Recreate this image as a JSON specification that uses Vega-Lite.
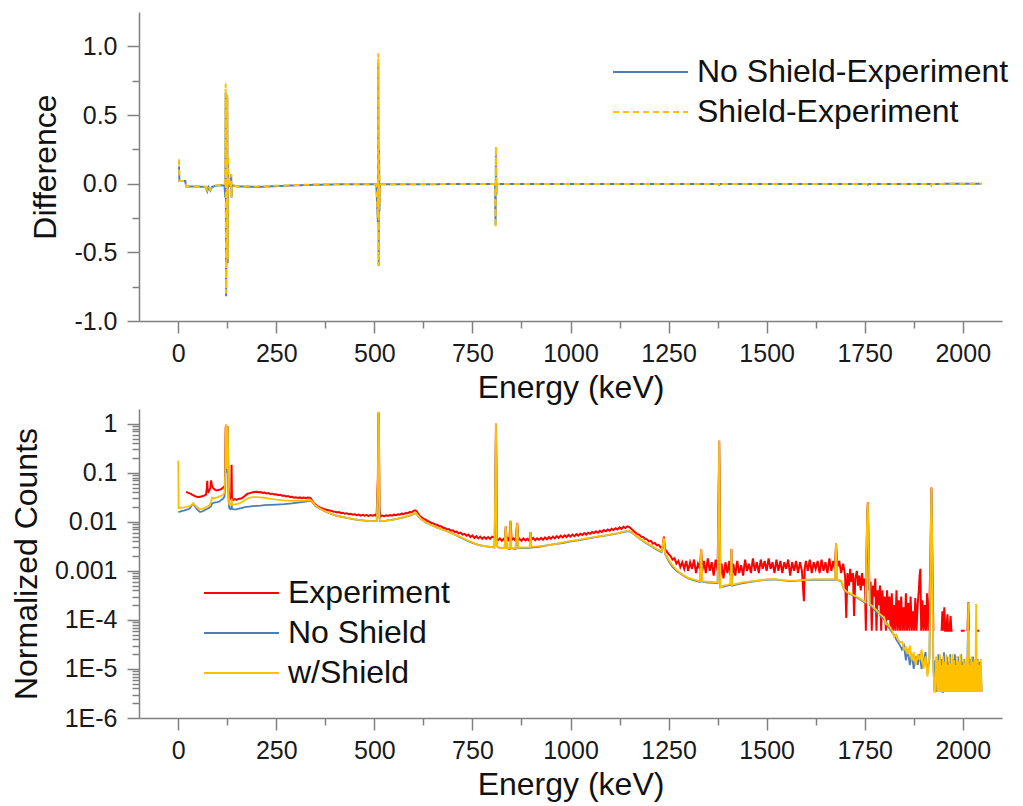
{
"$schema": "https://vega.github.io/schema/vega-lite/v6.json",
"padding": {"left": 10, "top": 12, "right": 10, "bottom": 4},
"spacing": 6,
"config": {
  "font": "Liberation Sans",
  "view": {"stroke": null},
  "axis": {"labelFontSize": 25, "titleFontSize": 32, "titleFontWeight": "normal", "labelColor": "#1a1a1a", "titleColor": "#111111", "domainColor": "#808080", "tickColor": "#808080", "domainWidth": 1.5, "tickWidth": 1.5, "grid": false, "labelFlush": false, "labelOverlap": false, "labelPadding": 8},
  "legend": {"labelFontSize": 32, "labelColor": "#111111", "symbolStrokeWidth": 2, "labelOffset": 3, "rowPadding": 8, "labelLimit": 500}
},
"datasets": {
"diff": [
{"e":0,"No Shield-Experiment":0.12,"Shield-Experiment":0.17},
{"e":2,"No Shield-Experiment":0.12,"Shield-Experiment":0.17},
{"e":3,"No Shield-Experiment":0.02,"Shield-Experiment":0.02},
{"e":18,"No Shield-Experiment":0.02,"Shield-Experiment":0.02},
{"e":20,"No Shield-Experiment":-0.02,"Shield-Experiment":-0.018},
{"e":40,"No Shield-Experiment":-0.02,"Shield-Experiment":-0.018},
{"e":60,"No Shield-Experiment":-0.022,"Shield-Experiment":-0.02},
{"e":70,"No Shield-Experiment":-0.025,"Shield-Experiment":-0.022},
{"e":74,"No Shield-Experiment":-0.055,"Shield-Experiment":-0.045},
{"e":77,"No Shield-Experiment":-0.025,"Shield-Experiment":-0.02},
{"e":82,"No Shield-Experiment":-0.05,"Shield-Experiment":-0.045},
{"e":86,"No Shield-Experiment":-0.025,"Shield-Experiment":-0.02},
{"e":95,"No Shield-Experiment":-0.015,"Shield-Experiment":-0.013},
{"e":110,"No Shield-Experiment":-0.012,"Shield-Experiment":-0.01},
{"e":118,"No Shield-Experiment":-0.015,"Shield-Experiment":-0.01},
{"e":120,"No Shield-Experiment":-0.1,"Shield-Experiment":0.05},
{"e":121,"No Shield-Experiment":0.66,"Shield-Experiment":0.73},
{"e":122,"No Shield-Experiment":-0.82,"Shield-Experiment":-0.8},
{"e":123,"No Shield-Experiment":-0.45,"Shield-Experiment":-0.4},
{"e":124,"No Shield-Experiment":0.3,"Shield-Experiment":0.35},
{"e":125,"No Shield-Experiment":0.63,"Shield-Experiment":0.65},
{"e":126,"No Shield-Experiment":-0.58,"Shield-Experiment":-0.55},
{"e":127,"No Shield-Experiment":0.15,"Shield-Experiment":0.2},
{"e":128,"No Shield-Experiment":-0.02,"Shield-Experiment":-0.02},
{"e":134,"No Shield-Experiment":-0.015,"Shield-Experiment":-0.012},
{"e":135,"No Shield-Experiment":0.07,"Shield-Experiment":0.07},
{"e":136,"No Shield-Experiment":-0.1,"Shield-Experiment":-0.1},
{"e":137,"No Shield-Experiment":-0.012,"Shield-Experiment":-0.01},
{"e":150,"No Shield-Experiment":-0.02,"Shield-Experiment":-0.018},
{"e":200,"No Shield-Experiment":-0.024,"Shield-Experiment":-0.02},
{"e":250,"No Shield-Experiment":-0.018,"Shield-Experiment":-0.015},
{"e":300,"No Shield-Experiment":-0.012,"Shield-Experiment":-0.01},
{"e":350,"No Shield-Experiment":-0.008,"Shield-Experiment":-0.006},
{"e":400,"No Shield-Experiment":-0.005,"Shield-Experiment":-0.004},
{"e":450,"No Shield-Experiment":-0.004,"Shield-Experiment":-0.003},
{"e":505,"No Shield-Experiment":-0.005,"Shield-Experiment":-0.004},
{"e":509,"No Shield-Experiment":-0.28,"Shield-Experiment":-0.25},
{"e":510,"No Shield-Experiment":0.88,"Shield-Experiment":0.95},
{"e":511,"No Shield-Experiment":-0.6,"Shield-Experiment":-0.6},
{"e":512,"No Shield-Experiment":0.25,"Shield-Experiment":0.3},
{"e":513,"No Shield-Experiment":-0.2,"Shield-Experiment":-0.15},
{"e":514,"No Shield-Experiment":-0.005,"Shield-Experiment":-0.004},
{"e":600,"No Shield-Experiment":-0.004,"Shield-Experiment":-0.003},
{"e":700,"No Shield-Experiment":-0.003,"Shield-Experiment":-0.003},
{"e":808,"No Shield-Experiment":-0.003,"Shield-Experiment":-0.003},
{"e":809,"No Shield-Experiment":-0.3,"Shield-Experiment":-0.32},
{"e":810,"No Shield-Experiment":0.26,"Shield-Experiment":0.27},
{"e":811,"No Shield-Experiment":-0.08,"Shield-Experiment":-0.06},
{"e":812,"No Shield-Experiment":-0.003,"Shield-Experiment":-0.003},
{"e":1000,"No Shield-Experiment":-0.002,"Shield-Experiment":-0.002},
{"e":1378,"No Shield-Experiment":-0.002,"Shield-Experiment":-0.002},
{"e":1379,"No Shield-Experiment":-0.014,"Shield-Experiment":-0.012},
{"e":1380,"No Shield-Experiment":-0.002,"Shield-Experiment":-0.002},
{"e":1757,"No Shield-Experiment":-0.002,"Shield-Experiment":-0.002},
{"e":1758,"No Shield-Experiment":-0.006,"Shield-Experiment":-0.008},
{"e":1759,"No Shield-Experiment":-0.002,"Shield-Experiment":-0.002},
{"e":1919,"No Shield-Experiment":-0.002,"Shield-Experiment":-0.002},
{"e":1920,"No Shield-Experiment":-0.008,"Shield-Experiment":-0.01},
{"e":1921,"No Shield-Experiment":-0.002,"Shield-Experiment":-0.002},
{"e":2048,"No Shield-Experiment":0,"Shield-Experiment":0}
],
"exp": [
{"e":20,"Experiment":0.041},{"e":23,"Experiment":0.04},{"e":26,"Experiment":0.039},{"e":29,"Experiment":0.038},{"e":32,"Experiment":0.0375},{"e":35,"Experiment":0.036},{"e":38,"Experiment":0.035},{"e":41,"Experiment":0.034},{"e":44,"Experiment":0.033},{"e":47,"Experiment":0.0325},{"e":50,"Experiment":0.032},{"e":53,"Experiment":0.032},{"e":56,"Experiment":0.0325},{"e":59,"Experiment":0.033},{"e":62,"Experiment":0.0335},{"e":65,"Experiment":0.034},{"e":68,"Experiment":0.035},{"e":71,"Experiment":0.036},{"e":73,"Experiment":0.05},{"e":74,"Experiment":0.069},{"e":75,"Experiment":0.045},{"e":77,"Experiment":0.041},{"e":79,"Experiment":0.043},{"e":82,"Experiment":0.05},{"e":84,"Experiment":0.07},{"e":86,"Experiment":0.055},{"e":88,"Experiment":0.05},{"e":91,"Experiment":0.047},{"e":94,"Experiment":0.045},{"e":97,"Experiment":0.044},{"e":100,"Experiment":0.044},{"e":104,"Experiment":0.045},{"e":108,"Experiment":0.046},{"e":112,"Experiment":0.048},{"e":116,"Experiment":0.051},{"e":119,"Experiment":0.055},
{"e":120,"Experiment":0.2},{"e":121,"Experiment":0.85},{"e":122,"Experiment":0.95},{"e":123,"Experiment":0.25},{"e":124,"Experiment":0.15},{"e":125,"Experiment":0.7},{"e":126,"Experiment":0.88},{"e":127,"Experiment":0.3},{"e":128,"Experiment":0.05},{"e":130,"Experiment":0.032},{"e":133,"Experiment":0.029},{"e":135,"Experiment":0.03},{"e":136,"Experiment":0.146},{"e":137,"Experiment":0.03},{"e":140,"Experiment":0.028},{"e":144,"Experiment":0.029},{"e":148,"Experiment":0.028},{"e":152,"Experiment":0.029},{"e":156,"Experiment":0.0295},{"e":160,"Experiment":0.03},{"e":164,"Experiment":0.031},{"e":168,"Experiment":0.033},{"e":172,"Experiment":0.035},{"e":176,"Experiment":0.037},{"e":180,"Experiment":0.038},{"e":185,"Experiment":0.039},{"e":190,"Experiment":0.04},{"e":195,"Experiment":0.0405},{"e":200,"Experiment":0.041},
{"e":205,"Experiment":0.04},{"e":210,"Experiment":0.0405},{"e":215,"Experiment":0.039},{"e":220,"Experiment":0.0395},{"e":225,"Experiment":0.038},{"e":230,"Experiment":0.0385},{"e":235,"Experiment":0.037},{"e":240,"Experiment":0.0375},{"e":245,"Experiment":0.036},{"e":250,"Experiment":0.0365},{"e":255,"Experiment":0.035},{"e":260,"Experiment":0.0355},{"e":265,"Experiment":0.034},{"e":270,"Experiment":0.0345},{"e":275,"Experiment":0.033},{"e":280,"Experiment":0.0335},{"e":285,"Experiment":0.032},{"e":290,"Experiment":0.0325},{"e":295,"Experiment":0.031},{"e":300,"Experiment":0.0318},{"e":305,"Experiment":0.0308},{"e":310,"Experiment":0.0315},{"e":315,"Experiment":0.0305},{"e":320,"Experiment":0.0312},{"e":325,"Experiment":0.0305},{"e":330,"Experiment":0.0315},{"e":335,"Experiment":0.031},{"e":338,"Experiment":0.03},{"e":342,"Experiment":0.027},{"e":346,"Experiment":0.024},{"e":350,"Experiment":0.0225},{"e":354,"Experiment":0.021},{"e":358,"Experiment":0.0205},{"e":362,"Experiment":0.0195},{"e":366,"Experiment":0.019},{"e":370,"Experiment":0.0185},{"e":375,"Experiment":0.0178},{"e":380,"Experiment":0.0175},{"e":385,"Experiment":0.017},{"e":390,"Experiment":0.0168},{"e":395,"Experiment":0.0163},{"e":400,"Experiment":0.016},
{"e":405,"Experiment":0.0155},{"e":410,"Experiment":0.0158},{"e":415,"Experiment":0.015},{"e":420,"Experiment":0.0153},{"e":425,"Experiment":0.0146},{"e":430,"Experiment":0.0149},{"e":435,"Experiment":0.0143},{"e":440,"Experiment":0.0146},{"e":445,"Experiment":0.014},{"e":450,"Experiment":0.0143},{"e":455,"Experiment":0.0137},{"e":460,"Experiment":0.0141},{"e":465,"Experiment":0.0134},{"e":470,"Experiment":0.0139},{"e":475,"Experiment":0.0133},{"e":480,"Experiment":0.0138},{"e":485,"Experiment":0.0132},{"e":490,"Experiment":0.0137},{"e":495,"Experiment":0.0133},{"e":500,"Experiment":0.0138},{"e":503,"Experiment":0.0135},{"e":506,"Experiment":0.015},{"e":509,"Experiment":0.08},{"e":510,"Experiment":0.6},{"e":511,"Experiment":1.7},{"e":512,"Experiment":0.3},{"e":513,"Experiment":0.02},{"e":515,"Experiment":0.0128},{"e":520,"Experiment":0.0134},{"e":525,"Experiment":0.013},{"e":530,"Experiment":0.0136},{"e":535,"Experiment":0.0132},{"e":540,"Experiment":0.0138},{"e":545,"Experiment":0.0134},{"e":550,"Experiment":0.014},{"e":555,"Experiment":0.0137},{"e":560,"Experiment":0.0143},{"e":565,"Experiment":0.014},{"e":570,"Experiment":0.0147},{"e":575,"Experiment":0.0145},{"e":580,"Experiment":0.0152},{"e":585,"Experiment":0.015},{"e":590,"Experiment":0.0158},{"e":595,"Experiment":0.0157},{"e":600,"Experiment":0.0167},
{"e":604,"Experiment":0.0172},{"e":608,"Experiment":0.0165},{"e":612,"Experiment":0.0145},{"e":616,"Experiment":0.013},{"e":620,"Experiment":0.0125},{"e":625,"Experiment":0.0115},{"e":630,"Experiment":0.0112},{"e":635,"Experiment":0.0104},{"e":640,"Experiment":0.0101},{"e":645,"Experiment":0.0095},{"e":650,"Experiment":0.0094},{"e":655,"Experiment":0.0088},{"e":660,"Experiment":0.0087},{"e":665,"Experiment":0.0082},{"e":670,"Experiment":0.0081},{"e":675,"Experiment":0.0076},{"e":680,"Experiment":0.0075},{"e":685,"Experiment":0.007},{"e":690,"Experiment":0.0071},{"e":695,"Experiment":0.0066},{"e":700,"Experiment":0.0067},{"e":705,"Experiment":0.0062},{"e":710,"Experiment":0.0063},{"e":715,"Experiment":0.0058},{"e":720,"Experiment":0.006},{"e":725,"Experiment":0.0055},{"e":730,"Experiment":0.0057},{"e":735,"Experiment":0.0052},{"e":740,"Experiment":0.0055},{"e":745,"Experiment":0.0049},{"e":750,"Experiment":0.0053},{"e":755,"Experiment":0.0047},{"e":760,"Experiment":0.0051},{"e":765,"Experiment":0.0046},{"e":770,"Experiment":0.005},{"e":775,"Experiment":0.0045},{"e":780,"Experiment":0.0049},{"e":785,"Experiment":0.0045},{"e":790,"Experiment":0.0049},{"e":795,"Experiment":0.0045},{"e":800,"Experiment":0.005},{"e":805,"Experiment":0.0048},{"e":808,"Experiment":0.005},{"e":809,"Experiment":0.15},{"e":810,"Experiment":1.0},{"e":811,"Experiment":0.15},{"e":812,"Experiment":0.0045},
{"e":815,"Experiment":0.0042},{"e":820,"Experiment":0.0046},{"e":825,"Experiment":0.0041},{"e":830,"Experiment":0.0045},{"e":833,"Experiment":0.0042},{"e":835,"Experiment":0.008},{"e":837,"Experiment":0.0042},{"e":840,"Experiment":0.0046},{"e":844,"Experiment":0.0041},{"e":847,"Experiment":0.0105},{"e":850,"Experiment":0.0043},{"e":855,"Experiment":0.0046},{"e":860,"Experiment":0.0041},{"e":864,"Experiment":0.0095},{"e":867,"Experiment":0.0042},{"e":870,"Experiment":0.0045},{"e":875,"Experiment":0.0041},{"e":880,"Experiment":0.0046},{"e":885,"Experiment":0.0042},{"e":890,"Experiment":0.0045},{"e":895,"Experiment":0.0041},{"e":898,"Experiment":0.0062},{"e":900,"Experiment":0.0043},{"e":905,"Experiment":0.0047},{"e":910,"Experiment":0.0042},{"e":915,"Experiment":0.0046},{"e":920,"Experiment":0.0043},{"e":925,"Experiment":0.0047},{"e":930,"Experiment":0.0043},{"e":935,"Experiment":0.0048},{"e":940,"Experiment":0.0044},{"e":945,"Experiment":0.0049},{"e":950,"Experiment":0.0045},{"e":955,"Experiment":0.005},{"e":960,"Experiment":0.0046},{"e":965,"Experiment":0.0051},{"e":970,"Experiment":0.0047},{"e":975,"Experiment":0.0052},{"e":980,"Experiment":0.0048},{"e":985,"Experiment":0.0053},{"e":990,"Experiment":0.0049},{"e":995,"Experiment":0.0054},{"e":1000,"Experiment":0.005},
{"e":1005,"Experiment":0.0055},{"e":1010,"Experiment":0.0051},{"e":1015,"Experiment":0.0056},{"e":1020,"Experiment":0.0052},{"e":1025,"Experiment":0.0057},{"e":1030,"Experiment":0.0054},{"e":1035,"Experiment":0.0059},{"e":1040,"Experiment":0.0055},{"e":1045,"Experiment":0.006},{"e":1050,"Experiment":0.0057},{"e":1055,"Experiment":0.0062},{"e":1060,"Experiment":0.0059},{"e":1065,"Experiment":0.0064},{"e":1070,"Experiment":0.006},{"e":1075,"Experiment":0.0066},{"e":1080,"Experiment":0.0062},{"e":1085,"Experiment":0.0068},{"e":1090,"Experiment":0.0064},{"e":1095,"Experiment":0.007},{"e":1100,"Experiment":0.0066},{"e":1105,"Experiment":0.0072},{"e":1110,"Experiment":0.0068},{"e":1115,"Experiment":0.0074},{"e":1120,"Experiment":0.007},{"e":1125,"Experiment":0.0077},{"e":1130,"Experiment":0.0072},{"e":1135,"Experiment":0.0079},{"e":1140,"Experiment":0.0075},{"e":1145,"Experiment":0.0081},{"e":1150,"Experiment":0.0078},{"e":1155,"Experiment":0.0072},{"e":1160,"Experiment":0.0066},{"e":1165,"Experiment":0.0061},{"e":1170,"Experiment":0.0056},{"e":1175,"Experiment":0.0055},{"e":1180,"Experiment":0.005},{"e":1185,"Experiment":0.0049},{"e":1190,"Experiment":0.0045},{"e":1195,"Experiment":0.0044},{"e":1200,"Experiment":0.004},
{"e":1205,"Experiment":0.0041},{"e":1210,"Experiment":0.0036},{"e":1215,"Experiment":0.0037},{"e":1220,"Experiment":0.0033},{"e":1225,"Experiment":0.0034},{"e":1230,"Experiment":0.003},{"e":1235,"Experiment":0.0031},{"e":1238,"Experiment":0.005},{"e":1241,"Experiment":0.0028},{"e":1245,"Experiment":0.0025},{"e":1250,"Experiment":0.0022},{"e":1255,"Experiment":0.002},{"e":1260,"Experiment":0.0017},{"e":1265,"Experiment":0.0018},{"e":1270,"Experiment":0.0014},{"e":1275,"Experiment":0.0016},{"e":1280,"Experiment":0.0012},{"e":1285,"Experiment":0.0015},{"e":1290,"Experiment":0.0011},{"e":1295,"Experiment":0.0016},{"e":1300,"Experiment":0.001},{"e":1305,"Experiment":0.0015},{"e":1310,"Experiment":0.0011},{"e":1315,"Experiment":0.0017},{"e":1320,"Experiment":0.0009},{"e":1325,"Experiment":0.0014},{"e":1330,"Experiment":0.0011},{"e":1333,"Experiment":0.0028},{"e":1336,"Experiment":0.001},{"e":1340,"Experiment":0.0016},{"e":1345,"Experiment":0.0009},{"e":1350,"Experiment":0.0018},{"e":1355,"Experiment":0.001},{"e":1360,"Experiment":0.0015},{"e":1365,"Experiment":0.0008},{"e":1370,"Experiment":0.0017},{"e":1375,"Experiment":0.001},{"e":1378,"Experiment":0.06},{"e":1379,"Experiment":0.45},{"e":1380,"Experiment":0.06},{"e":1382,"Experiment":0.0008},{"e":1385,"Experiment":0.0014},{"e":1390,"Experiment":0.0007},{"e":1395,"Experiment":0.0015},{"e":1400,"Experiment":0.0009},
{"e":1405,"Experiment":0.0016},{"e":1408,"Experiment":0.0008},{"e":1410,"Experiment":0.0028},{"e":1412,"Experiment":0.0007},{"e":1415,"Experiment":0.0014},{"e":1420,"Experiment":0.0008},{"e":1425,"Experiment":0.0016},{"e":1430,"Experiment":0.0009},{"e":1435,"Experiment":0.0013},{"e":1440,"Experiment":0.0008},{"e":1445,"Experiment":0.0017},{"e":1450,"Experiment":0.001},{"e":1455,"Experiment":0.0014},{"e":1460,"Experiment":0.0009},{"e":1465,"Experiment":0.0018},{"e":1470,"Experiment":0.001},{"e":1475,"Experiment":0.0015},{"e":1480,"Experiment":0.0009},{"e":1485,"Experiment":0.0017},{"e":1490,"Experiment":0.0011},{"e":1495,"Experiment":0.0016},{"e":1500,"Experiment":0.001},{"e":1505,"Experiment":0.0018},{"e":1510,"Experiment":0.0011},{"e":1515,"Experiment":0.0015},{"e":1520,"Experiment":0.0009},{"e":1525,"Experiment":0.0017},{"e":1530,"Experiment":0.001},{"e":1535,"Experiment":0.0016},{"e":1540,"Experiment":0.0009},{"e":1545,"Experiment":0.0015},{"e":1550,"Experiment":0.0011},{"e":1555,"Experiment":0.0017},{"e":1560,"Experiment":0.0008},{"e":1565,"Experiment":0.0015},{"e":1570,"Experiment":0.001},{"e":1575,"Experiment":0.0016},{"e":1580,"Experiment":0.0009},{"e":1585,"Experiment":0.0015},{"e":1590,"Experiment":0.001},{"e":1595,"Experiment":0.00024},{"e":1597,"Experiment":0.0011},{"e":1600,"Experiment":0.0016},
{"e":1605,"Experiment":0.001},{"e":1610,"Experiment":0.0017},{"e":1615,"Experiment":0.0009},{"e":1620,"Experiment":0.0015},{"e":1625,"Experiment":0.0011},{"e":1630,"Experiment":0.0016},{"e":1635,"Experiment":0.0009},{"e":1640,"Experiment":0.0017},{"e":1645,"Experiment":0.001},{"e":1650,"Experiment":0.0015},{"e":1655,"Experiment":0.0009},{"e":1660,"Experiment":0.0018},{"e":1665,"Experiment":0.001},{"e":1670,"Experiment":0.0016},{"e":1674,"Experiment":0.0011},{"e":1677,"Experiment":0.0036},{"e":1680,"Experiment":0.0012},{"e":1685,"Experiment":0.0016},{"e":1690,"Experiment":0.0009},{"e":1695,"Experiment":0.0014},{"e":1700,"Experiment":0.0008},{"e":1703,"Experiment":0.00011},{"e":1706,"Experiment":0.0009},{"e":1710,"Experiment":0.0005},{"e":1713,"Experiment":0.0011},{"e":1716,"Experiment":0.0006},{"e":1720,"Experiment":0.0009},{"e":1723,"Experiment":0.00012},{"e":1726,"Experiment":0.0007},{"e":1730,"Experiment":0.001},{"e":1733,"Experiment":0.0005},{"e":1736,"Experiment":0.0008},{"e":1740,"Experiment":0.0004},{"e":1743,"Experiment":0.0009},{"e":1746,"Experiment":0.0005},{"e":1750,"Experiment":0.0007},{"e":1753,"Experiment":0.00006},{"e":1756,"Experiment":0.01},{"e":1758,"Experiment":0.025},{"e":1760,"Experiment":0.003},{"e":1762,"Experiment":0.0004},{"e":1765,"Experiment":0.0006},{"e":1768,"Experiment":0.00006},{"e":1771,"Experiment":0.0005},{"e":1774,"Experiment":0.0003},{"e":1777,"Experiment":0.0007},{"e":1780,"Experiment":0.00006},{"e":1783,"Experiment":0.0004},{"e":1786,"Experiment":0.0002},{"e":1789,"Experiment":0.0005},{"e":1792,"Experiment":0.00006},{"e":1795,"Experiment":0.0004},{"e":1798,"Experiment":0.00012},{"e":1801,"Experiment":0.0003},
{"e":1804,"Experiment":0.00006},{"e":1807,"Experiment":0.0004},{"e":1810,"Experiment":0.0001},{"e":1813,"Experiment":0.0003},{"e":1816,"Experiment":0.00006},{"e":1819,"Experiment":0.00035},{"e":1822,"Experiment":0.00006},{"e":1825,"Experiment":0.0002},{"e":1828,"Experiment":0.00006},{"e":1831,"Experiment":0.0004},{"e":1834,"Experiment":0.00006},{"e":1837,"Experiment":0.00025},{"e":1840,"Experiment":0.00006},{"e":1843,"Experiment":0.0003},{"e":1846,"Experiment":0.00006},{"e":1849,"Experiment":0.00018},{"e":1852,"Experiment":0.00006},{"e":1855,"Experiment":0.00035},{"e":1858,"Experiment":0.00006},{"e":1861,"Experiment":0.00022},{"e":1864,"Experiment":0.00006},{"e":1867,"Experiment":0.0003},{"e":1870,"Experiment":0.00006},{"e":1873,"Experiment":0.00015},{"e":1876,"Experiment":0.00006},{"e":1879,"Experiment":0.00028},{"e":1882,"Experiment":0.00006},{"e":1885,"Experiment":0.0002},{"e":1888,"Experiment":0.0004},{"e":1890,"Experiment":0.0008},{"e":1892,"Experiment":0.0011},{"e":1894,"Experiment":0.00006},{"e":1897,"Experiment":0.00025},{"e":1900,"Experiment":0.00006},{"e":1903,"Experiment":0.0002},{"e":1906,"Experiment":0.00006},{"e":1909,"Experiment":0.00035},{"e":1912,"Experiment":0.00006},{"e":1915,"Experiment":0.0002},{"e":1918,"Experiment":0.003},{"e":1920,"Experiment":0.05},{"e":1922,"Experiment":0.003},{"e":1925,"Experiment":0.00006},{"e":1928,"Experiment":null},
{"e":1946,"Experiment":0.00006},{"e":1948,"Experiment":0.00015},{"e":1950,"Experiment":0.00006},{"e":1953,"Experiment":0.00018},{"e":1955,"Experiment":0.00006},{"e":1958,"Experiment":0.00006},{"e":1961,"Experiment":0.00013},{"e":1963,"Experiment":0.00006},{"e":1966,"Experiment":0.00006},{"e":1969,"Experiment":0.00012},{"e":1971,"Experiment":0.00006},{"e":1974,"Experiment":0.00006},{"e":1976,"Experiment":null},
{"e":1995,"Experiment":0.00006},{"e":2005,"Experiment":0.00006},{"e":2007,"Experiment":null},{"e":2012,"Experiment":0.00006},{"e":2014,"Experiment":0.00023},{"e":2016,"Experiment":0.00006},{"e":2018,"Experiment":null},{"e":2033,"Experiment":0.00006},{"e":2042,"Experiment":0.00006}
],
"sim": [
{"e":0,"No Shield":0.016,"w/Shield":0.176},{"e":1,"No Shield":0.016,"w/Shield":0.019},{"e":5,"No Shield":0.0162,"w/Shield":0.0192},{"e":10,"No Shield":0.0168,"w/Shield":0.0195},{"e":15,"No Shield":0.017,"w/Shield":0.0198},{"e":20,"No Shield":0.0175,"w/Shield":0.0201},{"e":25,"No Shield":0.018,"w/Shield":0.0205},{"e":30,"No Shield":0.019,"w/Shield":0.021},{"e":35,"No Shield":0.022,"w/Shield":0.0225},{"e":38,"No Shield":0.0234,"w/Shield":0.024},{"e":42,"No Shield":0.021,"w/Shield":0.0222},{"e":48,"No Shield":0.018,"w/Shield":0.0198},{"e":55,"No Shield":0.016,"w/Shield":0.018},{"e":60,"No Shield":0.0162,"w/Shield":0.0182},{"e":65,"No Shield":0.0168,"w/Shield":0.0188},{"e":70,"No Shield":0.0178,"w/Shield":0.0198},{"e":75,"No Shield":0.0185,"w/Shield":0.0205},{"e":80,"No Shield":0.0195,"w/Shield":0.022},{"e":84,"No Shield":0.021,"w/Shield":0.026},{"e":86,"No Shield":0.0235,"w/Shield":0.031},{"e":90,"No Shield":0.0245,"w/Shield":0.03},{"e":95,"No Shield":0.025,"w/Shield":0.031},{"e":100,"No Shield":0.0252,"w/Shield":0.0315},{"e":105,"No Shield":0.026,"w/Shield":0.033},{"e":110,"No Shield":0.028,"w/Shield":0.034},{"e":115,"No Shield":0.03,"w/Shield":0.036},{"e":118,"No Shield":0.033,"w/Shield":0.04},
{"e":120,"No Shield":0.05,"w/Shield":0.1},{"e":121,"No Shield":0.5,"w/Shield":0.7},{"e":122,"No Shield":0.93,"w/Shield":0.95},{"e":123,"No Shield":0.2,"w/Shield":0.22},{"e":124,"No Shield":0.1,"w/Shield":0.12},{"e":125,"No Shield":0.6,"w/Shield":0.62},{"e":126,"No Shield":0.85,"w/Shield":0.87},{"e":127,"No Shield":0.3,"w/Shield":0.35},{"e":128,"No Shield":0.03,"w/Shield":0.04},{"e":130,"No Shield":0.019,"w/Shield":0.023},{"e":133,"No Shield":0.018,"w/Shield":0.022},{"e":135,"No Shield":0.0185,"w/Shield":0.022},{"e":136,"No Shield":0.025,"w/Shield":0.03},{"e":137,"No Shield":0.0185,"w/Shield":0.0225},{"e":140,"No Shield":0.018,"w/Shield":0.0225},{"e":145,"No Shield":0.018,"w/Shield":0.0228},{"e":150,"No Shield":0.0182,"w/Shield":0.0232},{"e":160,"No Shield":0.019,"w/Shield":0.0245},{"e":170,"No Shield":0.02,"w/Shield":0.028},{"e":180,"No Shield":0.0205,"w/Shield":0.031},{"e":190,"No Shield":0.021,"w/Shield":0.032},{"e":200,"No Shield":0.0212,"w/Shield":0.032},{"e":210,"No Shield":0.0215,"w/Shield":0.0315},{"e":220,"No Shield":0.022,"w/Shield":0.031},{"e":235,"No Shield":0.0222,"w/Shield":0.0295},{"e":250,"No Shield":0.0225,"w/Shield":0.0285},{"e":270,"No Shield":0.023,"w/Shield":0.0275},{"e":290,"No Shield":0.0238,"w/Shield":0.0268},{"e":310,"No Shield":0.025,"w/Shield":0.0268},{"e":325,"No Shield":0.026,"w/Shield":0.0272},{"e":335,"No Shield":0.0272,"w/Shield":0.0282},{"e":340,"No Shield":0.026,"w/Shield":0.027},{"e":345,"No Shield":0.0235,"w/Shield":0.024},{"e":350,"No Shield":0.021,"w/Shield":0.0215},{"e":360,"No Shield":0.0188,"w/Shield":0.019},{"e":370,"No Shield":0.017,"w/Shield":0.0172},{"e":380,"No Shield":0.0155,"w/Shield":0.0157},{"e":390,"No Shield":0.0145,"w/Shield":0.0146},{"e":400,"No Shield":0.0135,"w/Shield":0.0136},
{"e":415,"No Shield":0.0127,"w/Shield":0.0128},{"e":430,"No Shield":0.012,"w/Shield":0.0121},{"e":445,"No Shield":0.0114,"w/Shield":0.0115},{"e":460,"No Shield":0.0109,"w/Shield":0.011},{"e":475,"No Shield":0.0106,"w/Shield":0.0107},{"e":490,"No Shield":0.0104,"w/Shield":0.0104},{"e":500,"No Shield":0.0103,"w/Shield":0.0103},{"e":506,"No Shield":0.0104,"w/Shield":0.0104},{"e":509,"No Shield":0.05,"w/Shield":0.06},{"e":510,"No Shield":0.6,"w/Shield":0.7},{"e":511,"No Shield":1.7,"w/Shield":1.75},{"e":512,"No Shield":0.25,"w/Shield":0.3},{"e":513,"No Shield":0.012,"w/Shield":0.012},{"e":515,"No Shield":0.0103,"w/Shield":0.0104},{"e":530,"No Shield":0.0106,"w/Shield":0.0106},{"e":545,"No Shield":0.011,"w/Shield":0.011},{"e":560,"No Shield":0.0116,"w/Shield":0.0116},{"e":575,"No Shield":0.0124,"w/Shield":0.0125},{"e":590,"No Shield":0.0134,"w/Shield":0.0135},{"e":600,"No Shield":0.0143,"w/Shield":0.0145},{"e":606,"No Shield":0.015,"w/Shield":0.0152},{"e":612,"No Shield":0.013,"w/Shield":0.0132},{"e":620,"No Shield":0.0112,"w/Shield":0.0113},{"e":630,"No Shield":0.0098,"w/Shield":0.0099},{"e":645,"No Shield":0.0086,"w/Shield":0.0086},{"e":660,"No Shield":0.0076,"w/Shield":0.0076},{"e":675,"No Shield":0.0069,"w/Shield":0.0069},{"e":690,"No Shield":0.0062,"w/Shield":0.0062},{"e":705,"No Shield":0.0055,"w/Shield":0.0055},{"e":720,"No Shield":0.0048,"w/Shield":0.0049},{"e":735,"No Shield":0.0042,"w/Shield":0.0043},{"e":750,"No Shield":0.0037,"w/Shield":0.0038},{"e":765,"No Shield":0.0034,"w/Shield":0.0034},{"e":780,"No Shield":0.0032,"w/Shield":0.0032},{"e":795,"No Shield":0.0031,"w/Shield":0.0031},{"e":806,"No Shield":0.003,"w/Shield":0.003},{"e":809,"No Shield":0.1,"w/Shield":0.12},{"e":810,"No Shield":1.0,"w/Shield":1.0},{"e":811,"No Shield":0.1,"w/Shield":0.12},{"e":812,"No Shield":0.0032,"w/Shield":0.0032},
{"e":820,"No Shield":0.0029,"w/Shield":0.0029},{"e":832,"No Shield":0.0029,"w/Shield":0.0029},{"e":835,"No Shield":0.0075,"w/Shield":0.0083},{"e":838,"No Shield":0.0029,"w/Shield":0.0029},{"e":845,"No Shield":0.0028,"w/Shield":0.0029},{"e":847,"No Shield":0.0095,"w/Shield":0.0105},{"e":849,"No Shield":0.0029,"w/Shield":0.0029},{"e":860,"No Shield":0.0028,"w/Shield":0.0029},{"e":864,"No Shield":0.0088,"w/Shield":0.0095},{"e":867,"No Shield":0.0029,"w/Shield":0.003},{"e":880,"No Shield":0.0029,"w/Shield":0.003},{"e":896,"No Shield":0.0029,"w/Shield":0.003},{"e":898,"No Shield":0.0055,"w/Shield":0.0062},{"e":900,"No Shield":0.003,"w/Shield":0.0031},{"e":920,"No Shield":0.0031,"w/Shield":0.0032},{"e":940,"No Shield":0.0033,"w/Shield":0.0033},{"e":960,"No Shield":0.0035,"w/Shield":0.0035},{"e":980,"No Shield":0.0037,"w/Shield":0.0038},{"e":1000,"No Shield":0.004,"w/Shield":0.0041},{"e":1020,"No Shield":0.0042,"w/Shield":0.0043},{"e":1040,"No Shield":0.0045,"w/Shield":0.0046},{"e":1060,"No Shield":0.0048,"w/Shield":0.0049},{"e":1080,"No Shield":0.0051,"w/Shield":0.0052},{"e":1100,"No Shield":0.0054,"w/Shield":0.0055},{"e":1120,"No Shield":0.0058,"w/Shield":0.0059},{"e":1135,"No Shield":0.0062,"w/Shield":0.0063},{"e":1148,"No Shield":0.0065,"w/Shield":0.0066},{"e":1155,"No Shield":0.0061,"w/Shield":0.0062},{"e":1165,"No Shield":0.0053,"w/Shield":0.0054},{"e":1175,"No Shield":0.0046,"w/Shield":0.0047},{"e":1190,"No Shield":0.0038,"w/Shield":0.0039},{"e":1205,"No Shield":0.0032,"w/Shield":0.0033},{"e":1220,"No Shield":0.0027,"w/Shield":0.0028},{"e":1232,"No Shield":0.0024,"w/Shield":0.0025},{"e":1238,"No Shield":0.004,"w/Shield":0.0047},{"e":1241,"No Shield":0.0022,"w/Shield":0.0023},{"e":1250,"No Shield":0.0016,"w/Shield":0.0017},{"e":1260,"No Shield":0.0012,"w/Shield":0.0013},{"e":1270,"No Shield":0.001,"w/Shield":0.00105},{"e":1280,"No Shield":0.00088,"w/Shield":0.0009},{"e":1290,"No Shield":0.00078,"w/Shield":0.0008},{"e":1300,"No Shield":0.0007,"w/Shield":0.00072},
{"e":1315,"No Shield":0.00064,"w/Shield":0.00066},{"e":1330,"No Shield":0.0006,"w/Shield":0.00062},{"e":1333,"No Shield":0.0024,"w/Shield":0.0028},{"e":1336,"No Shield":0.0006,"w/Shield":0.00061},{"e":1350,"No Shield":0.00058,"w/Shield":0.0006},{"e":1365,"No Shield":0.00057,"w/Shield":0.00059},{"e":1375,"No Shield":0.00056,"w/Shield":0.00058},{"e":1378,"No Shield":0.05,"w/Shield":0.06},{"e":1379,"No Shield":0.43,"w/Shield":0.45},{"e":1380,"No Shield":0.05,"w/Shield":0.06},{"e":1382,"No Shield":0.00046,"w/Shield":0.00046},{"e":1390,"No Shield":0.00048,"w/Shield":0.0005},{"e":1400,"No Shield":0.0005,"w/Shield":0.00052},{"e":1408,"No Shield":0.00052,"w/Shield":0.00054},{"e":1410,"No Shield":0.0025,"w/Shield":0.0028},{"e":1412,"No Shield":0.0005,"w/Shield":0.00052},{"e":1425,"No Shield":0.00053,"w/Shield":0.00055},{"e":1440,"No Shield":0.00056,"w/Shield":0.00058},{"e":1460,"No Shield":0.0006,"w/Shield":0.00061},{"e":1480,"No Shield":0.00063,"w/Shield":0.00064},{"e":1500,"No Shield":0.00066,"w/Shield":0.00067},{"e":1520,"No Shield":0.00067,"w/Shield":0.00068},{"e":1540,"No Shield":0.00064,"w/Shield":0.00065},{"e":1560,"No Shield":0.00062,"w/Shield":0.00063},{"e":1580,"No Shield":0.00063,"w/Shield":0.00064},{"e":1600,"No Shield":0.00065,"w/Shield":0.00066},{"e":1620,"No Shield":0.00066,"w/Shield":0.00067},{"e":1640,"No Shield":0.00066,"w/Shield":0.00067},{"e":1660,"No Shield":0.00066,"w/Shield":0.00068},{"e":1674,"No Shield":0.00066,"w/Shield":0.00067},{"e":1677,"No Shield":0.0032,"w/Shield":0.0036},{"e":1680,"No Shield":0.00065,"w/Shield":0.00066},{"e":1690,"No Shield":0.00062,"w/Shield":0.00063},{"e":1697,"No Shield":0.00042,"w/Shield":0.00043},{"e":1705,"No Shield":0.00036,"w/Shield":0.00037},{"e":1715,"No Shield":0.00033,"w/Shield":0.00034},{"e":1725,"No Shield":0.0003,"w/Shield":0.00031},{"e":1735,"No Shield":0.00027,"w/Shield":0.00028},{"e":1745,"No Shield":0.00024,"w/Shield":0.00025},{"e":1752,"No Shield":0.00022,"w/Shield":0.00023},{"e":1756,"No Shield":0.008,"w/Shield":0.01},{"e":1758,"No Shield":0.022,"w/Shield":0.025},{"e":1760,"No Shield":0.002,"w/Shield":0.003},{"e":1763,"No Shield":0.0002,"w/Shield":0.00021},{"e":1770,"No Shield":0.00018,"w/Shield":0.00019},
{"e":1775,"No Shield":0.00016,"w/Shield":0.00017},{"e":1780,"No Shield":0.00014,"w/Shield":0.00016},{"e":1785,"No Shield":0.00015,"w/Shield":0.00014},{"e":1790,"No Shield":0.00012,"w/Shield":0.00013},{"e":1795,"No Shield":0.00011,"w/Shield":0.00012},{"e":1800,"No Shield":0.0001,"w/Shield":0.00011},{"e":1805,"No Shield":0.00009,"w/Shield":0.00008},{"e":1810,"No Shield":0.00007,"w/Shield":0.00008},{"e":1815,"No Shield":0.000065,"w/Shield":0.00007},{"e":1820,"No Shield":0.000055,"w/Shield":0.00006},{"e":1825,"No Shield":0.00005,"w/Shield":0.000045},{"e":1830,"No Shield":0.00004,"w/Shield":0.00005},{"e":1835,"No Shield":0.000035,"w/Shield":0.00004},{"e":1840,"No Shield":0.00003,"w/Shield":0.000035},{"e":1845,"No Shield":0.000025,"w/Shield":0.000036},{"e":1850,"No Shield":0.00003,"w/Shield":0.000025},{"e":1855,"No Shield":0.000015,"w/Shield":0.000028},{"e":1860,"No Shield":0.000025,"w/Shield":0.00002},{"e":1865,"No Shield":0.000012,"w/Shield":0.00003},{"e":1870,"No Shield":0.00002,"w/Shield":0.000015},{"e":1875,"No Shield":0.00001,"w/Shield":0.000022},{"e":1880,"No Shield":0.000018,"w/Shield":0.000012},{"e":1885,"No Shield":0.000012,"w/Shield":0.00002},{"e":1890,"No Shield":0.00002,"w/Shield":0.000015},{"e":1895,"No Shield":0.00001,"w/Shield":0.000025},{"e":1900,"No Shield":0.000015,"w/Shield":0.00001},{"e":1905,"No Shield":0.000022,"w/Shield":0.000018},{"e":1910,"No Shield":0.000008,"w/Shield":0.000007},{"e":1915,"No Shield":0.000016,"w/Shield":0.000018},{"e":1918,"No Shield":0.002,"w/Shield":0.003},{"e":1920,"No Shield":0.045,"w/Shield":0.05},{"e":1922,"No Shield":0.003,"w/Shield":0.004},{"e":1925,"No Shield":0.000012,"w/Shield":0.00001},
{"e":1928,"No Shield":0.0000034,"w/Shield":0.0000034},{"e":1930,"No Shield":0.000015,"w/Shield":0.0000034},{"e":1932,"No Shield":0.0000034,"w/Shield":0.000018},{"e":1934,"No Shield":0.000012,"w/Shield":0.000012},{"e":1936,"No Shield":0.0000034,"w/Shield":0.0000034},{"e":1938,"No Shield":0.00002,"w/Shield":0.000015},{"e":1940,"No Shield":0.0000034,"w/Shield":0.0000034},{"e":1942,"No Shield":0.000012,"w/Shield":0.00002},{"e":1944,"No Shield":0.0000034,"w/Shield":0.0000034},{"e":1946,"No Shield":0.000016,"w/Shield":0.000012},{"e":1948,"No Shield":0.0000034,"w/Shield":0.0000034},{"e":1950,"No Shield":0.0000034,"w/Shield":0.000018},{"e":1952,"No Shield":0.000022,"w/Shield":0.0000034},{"e":1954,"No Shield":0.0000034,"w/Shield":0.000014},{"e":1956,"No Shield":0.000012,"w/Shield":0.0000034},{"e":1958,"No Shield":0.0000034,"w/Shield":0.00002},{"e":1960,"No Shield":0.000018,"w/Shield":0.0000034},{"e":1962,"No Shield":0.0000034,"w/Shield":0.000012},{"e":1964,"No Shield":0.000014,"w/Shield":0.0000034},{"e":1966,"No Shield":0.0000034,"w/Shield":0.000018},{"e":1968,"No Shield":0.00002,"w/Shield":0.0000034},{"e":1970,"No Shield":0.0000034,"w/Shield":0.000013},{"e":1972,"No Shield":0.000012,"w/Shield":0.0000034},{"e":1974,"No Shield":0.0000034,"w/Shield":0.00002},{"e":1976,"No Shield":0.000016,"w/Shield":0.0000034},{"e":1978,"No Shield":0.0000034,"w/Shield":0.000015},{"e":1980,"No Shield":0.00002,"w/Shield":0.0000034},{"e":1982,"No Shield":0.0000034,"w/Shield":0.000012},{"e":1984,"No Shield":0.000013,"w/Shield":0.0000034},{"e":1986,"No Shield":0.0000034,"w/Shield":0.000018},{"e":1988,"No Shield":0.000018,"w/Shield":0.0000034},{"e":1990,"No Shield":0.0000034,"w/Shield":0.000014},{"e":1992,"No Shield":0.000012,"w/Shield":0.0000034},{"e":1994,"No Shield":0.0000034,"w/Shield":0.00002},{"e":1996,"No Shield":0.00002,"w/Shield":0.0000034},{"e":1998,"No Shield":0.0000034,"w/Shield":0.000012},{"e":2000,"No Shield":0.000014,"w/Shield":0.0000034},{"e":2002,"No Shield":0.0000034,"w/Shield":0.000016},{"e":2004,"No Shield":0.000016,"w/Shield":0.0000034},{"e":2006,"No Shield":0.0000034,"w/Shield":0.000013},{"e":2008,"No Shield":0.000012,"w/Shield":0.0000034},{"e":2010,"No Shield":0.0000034,"w/Shield":0.000018},{"e":2012,"No Shield":0.00002,"w/Shield":0.0000034},{"e":2014,"No Shield":0.00014,"w/Shield":0.00022},{"e":2016,"No Shield":0.0000034,"w/Shield":0.0000034},{"e":2018,"No Shield":0.000016,"w/Shield":0.000012},{"e":2020,"No Shield":0.0000034,"w/Shield":0.0000034},{"e":2022,"No Shield":0.000012,"w/Shield":0.000018},{"e":2024,"No Shield":0.0000034,"w/Shield":0.0000034},{"e":2026,"No Shield":0.000018,"w/Shield":0.000014},{"e":2028,"No Shield":0.0000034,"w/Shield":0.0000034},{"e":2030,"No Shield":0.000014,"w/Shield":0.000016},{"e":2032,"No Shield":0.0000034,"w/Shield":0.0000034},{"e":2034,"No Shield":0.000012,"w/Shield":0.00021},{"e":2036,"No Shield":0.0000034,"w/Shield":0.0000034},{"e":2038,"No Shield":0.000016,"w/Shield":0.000015},{"e":2040,"No Shield":0.0000034,"w/Shield":0.0000034},{"e":2042,"No Shield":0.000014,"w/Shield":0.000012},{"e":2044,"No Shield":0.0000034,"w/Shield":0.0000034},{"e":2046,"No Shield":0.000012,"w/Shield":0.000016},{"e":2048,"No Shield":0.0000034,"w/Shield":0.0000034}
]
},
"vconcat": [
{
  "width": 863, "height": 309,
  "data": {"name": "diff"},
  "transform": [{"fold": ["No Shield-Experiment", "Shield-Experiment"], "as": ["series", "value"]}],
  "mark": {"type": "line", "strokeWidth": 2, "clip": true},
  "encoding": {
    "x": {"field": "e", "type": "quantitative", "scale": {"domain": [-100, 2100], "nice": false, "zero": false},
      "axis": {"title": "Energy (keV)", "values": [0,125,250,375,500,625,750,875,1000,1125,1250,1375,1500,1625,1750,1875,2000], "labelExpr": "datum.value % 250 === 0 ? format(datum.value, 'd') : ''", "tickSize": {"condition": {"test": "datum.value % 250 === 0", "value": 12}, "value": 7}, "titlePadding": 6}},
    "y": {"field": "value", "type": "quantitative", "scale": {"domain": [-1, 1.25], "nice": false},
      "axis": {"title": "Difference", "values": [-1,-0.75,-0.5,-0.25,0,0.25,0.5,0.75,1], "labelExpr": "datum.value % 0.5 === 0 ? (datum.value < 0 ? '-' + format(-datum.value, '.1f') : format(datum.value, '.1f')) : ''", "tickSize": {"condition": {"test": "datum.value % 0.5 === 0", "value": 12}, "value": 7}, "labelPadding": 10, "titlePadding": 11}},
    "color": {"field": "series", "type": "nominal", "scale": {"domain": ["No Shield-Experiment", "Shield-Experiment"], "range": ["#4a7ebb", "#ffc000"]},
      "legend": {"title": null, "orient": "none", "legendX": 523, "legendY": 44, "symbolType": "M-6.5,0H1", "symbolSize": 400}},
    "strokeDash": {"field": "series", "type": "nominal", "scale": {"domain": ["No Shield-Experiment", "Shield-Experiment"], "range": [[1, 0], [6, 4]]},
      "legend": {"title": null, "orient": "none", "legendX": 523, "legendY": 44, "symbolType": "M-6.5,0H1", "symbolSize": 400}}
  }
},
{
  "width": 863, "height": 309,
  "encoding": {
    "x": {"field": "e", "type": "quantitative", "scale": {"domain": [-100, 2100], "nice": false, "zero": false},
      "axis": {"title": "Energy (keV)", "values": [0,125,250,375,500,625,750,875,1000,1125,1250,1375,1500,1625,1750,1875,2000], "labelExpr": "datum.value % 250 === 0 ? format(datum.value, 'd') : ''", "tickSize": {"condition": {"test": "datum.value % 250 === 0", "value": 12}, "value": 7}, "titlePadding": 6}},
    "y": {"field": "value", "type": "quantitative", "scale": {"type": "log", "domain": [0.000001, 2], "nice": false},
      "axis": {"title": "Normalized Counts", "values": [0.000001,0.000002,0.000003,0.000004,0.000005,0.000006,0.000007,0.000008,0.000009,0.00001,0.00002,0.00003,0.00004,0.00005,0.00006,0.00007,0.00008,0.00009,0.0001,0.0002,0.0003,0.0004,0.0005,0.0006,0.0007,0.0008,0.0009,0.001,0.002,0.003,0.004,0.005,0.006,0.007,0.008,0.009,0.01,0.02,0.03,0.04,0.05,0.06,0.07,0.08,0.09,0.1,0.2,0.3,0.4,0.5,0.6,0.7,0.8,0.9,1],
        "labelExpr": "abs(log(datum.value)/LN10 - round(log(datum.value)/LN10)) < 0.000001 ? (datum.value >= 0.0009 ? format(datum.value, '~g') : '1E-' + round(-log(datum.value)/LN10)) : ''",
        "tickSize": {"condition": {"test": "abs(log(datum.value)/LN10 - round(log(datum.value)/LN10)) < 0.000001", "value": 12}, "value": 7}, "labelPadding": 10, "titlePadding": 11}},
    "color": {"field": "series", "type": "nominal", "scale": {"domain": ["Experiment", "No Shield", "w/Shield"], "range": ["#ff0000", "#4a7ebb", "#ffc000"]},
      "legend": {"title": null, "orient": "none", "legendX": 114, "legendY": 168, "symbolType": "M-6.5,0H1", "symbolSize": 400}}
  },
  "layer": [
    {"data": {"name": "exp"}, "transform": [{"fold": ["Experiment"], "as": ["series", "value"]}],
     "mark": {"type": "line", "strokeWidth": 2, "clip": true, "invalid": "break-paths-show-domains"}},
    {"data": {"name": "sim"}, "transform": [{"fold": ["No Shield", "w/Shield"], "as": ["series", "value"]}],
     "mark": {"type": "line", "strokeWidth": 1.8, "clip": true}}
  ]
}
],
"resolve": {"scale": {"color": "independent", "strokeDash": "independent"}, "legend": {"color": "independent", "strokeDash": "independent"}}
}
